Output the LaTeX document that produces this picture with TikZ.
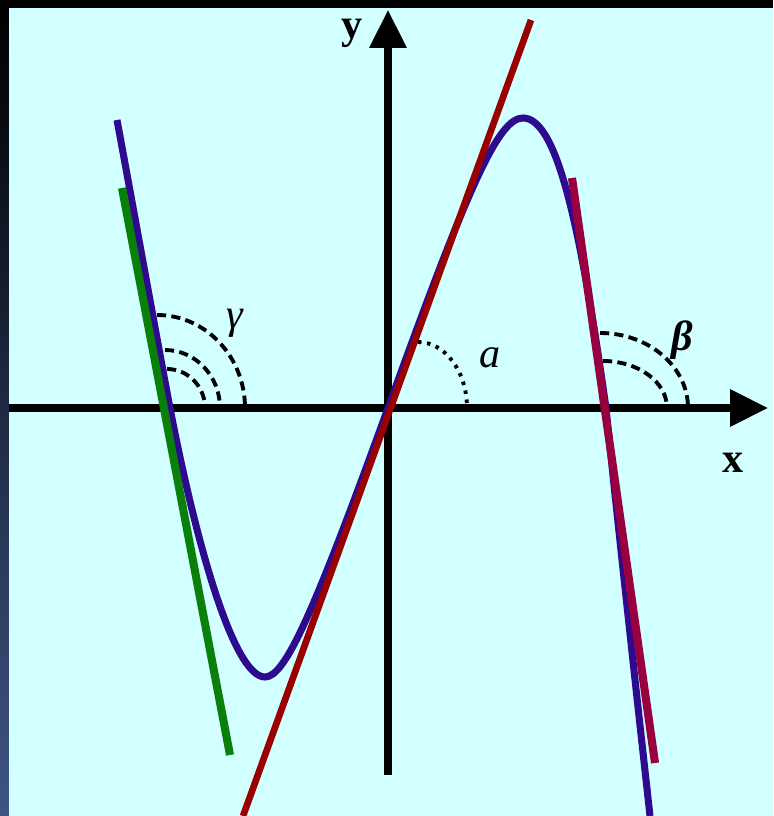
\documentclass[tikz,border=0pt]{standalone}
\usepackage{fontspec}
\setmainfont{Liberation Serif}
\usetikzlibrary{arrows.meta}
\definecolor{slidebg}{HTML}{D2FFFF}
\definecolor{stripblue}{HTML}{3E5585}
\definecolor{curveblue}{HTML}{2E0A8E}
\definecolor{tanred}{HTML}{990000}
\definecolor{tangreen}{HTML}{0A800A}
\definecolor{tanmaroon}{HTML}{990040}

\begin{document}
\begin{tikzpicture}[x=0.01cm, y=0.01cm,
    every node/.style={font=\fontsize{12}{13}\selectfont, inner sep=0pt},
    axis/.style={line width=2pt, -{Triangle[length=10.8pt, width=10.2pt]}},
    graph/.style={line width=2pt, curveblue},
    tangent/.style={line width=2.3pt},
    anglemark/.style={line width=1.1pt, dash pattern=on 2.6pt off 1.5pt},
    dotmark/.style={line width=1.1pt, dash pattern=on 1pt off 1.6pt},
  ]
  % slide background
  \fill[slidebg] (-388,-408) rectangle (385,408);
  \useasboundingbox (-388,-408) rectangle (385,408);
  \fill[black] (-388,400) rectangle (385,408);
  \shade[top color=black, bottom color=stripblue] (-388,-408) rectangle (-379,400);

  % axes
  \coordinate (O) at (0,0);
  \draw[axis] (-379,0) -- (380,0);
  \draw[axis] (0,-367) -- (0,398);
  \node (xlab) at (345,-55) {\textbf{x}};
  \node (ylab) at (-36,375) {\textbf{y}};

  % the graph: roots, extrema, inflection
  \coordinate (S) at (-271,288);
  \coordinate (R1) at (-218,0);
  \coordinate (M) at (-123,-269);
  \coordinate (P) at (135,290);
  \coordinate (R2) at (218,0);
  \coordinate (E) at (262,-408);
  \draw[graph] (S) .. controls (-262,240) and (-228,52) .. (R1)
    .. controls (-193,-130) and (-155,-269) .. (M)
    .. controls (-103,-269) and (-75,-207) .. (O)
    .. controls (80,221) and (110,290) .. (P)
    .. controls (170,290) and (193,176) .. (R2)
    .. controls (226,-80) and (250,-300) .. (E);

  % tangent lines
  \draw[tangent, tanred, line width=1.9pt] (-145,-408) -- (143,388);
  \draw[tangent, tangreen] (-266,220) -- (-158,-347);
  \draw[tangent, tanmaroon] (184,230) -- (267,-355);

  % angle marks
  \draw[anglemark] (-231,93) arc[start angle=90, end angle=0, x radius=88, y radius=93];
  \draw[anglemark] (-223,58) arc[start angle=90, end angle=0, x radius=55, y radius=58];
  \draw[anglemark] (-221,39) arc[start angle=90, end angle=0, x radius=38, y radius=39];
  \draw[dotmark] (30,66) arc[start angle=90, end angle=0, x radius=49, y radius=66];
  \draw[anglemark] (212,75) arc[start angle=90, end angle=0, x radius=88, y radius=75];
  \draw[anglemark] (215,47) arc[start angle=90, end angle=0, x radius=64, y radius=47];

  \node (gamma) at (-153,85) {\textit{γ}};
  \node (alpha) at (102,50) {\textit{a}};
  \node (beta) at (294,68) {\textbf{\textit{β}}};
\end{tikzpicture}
\end{document}
